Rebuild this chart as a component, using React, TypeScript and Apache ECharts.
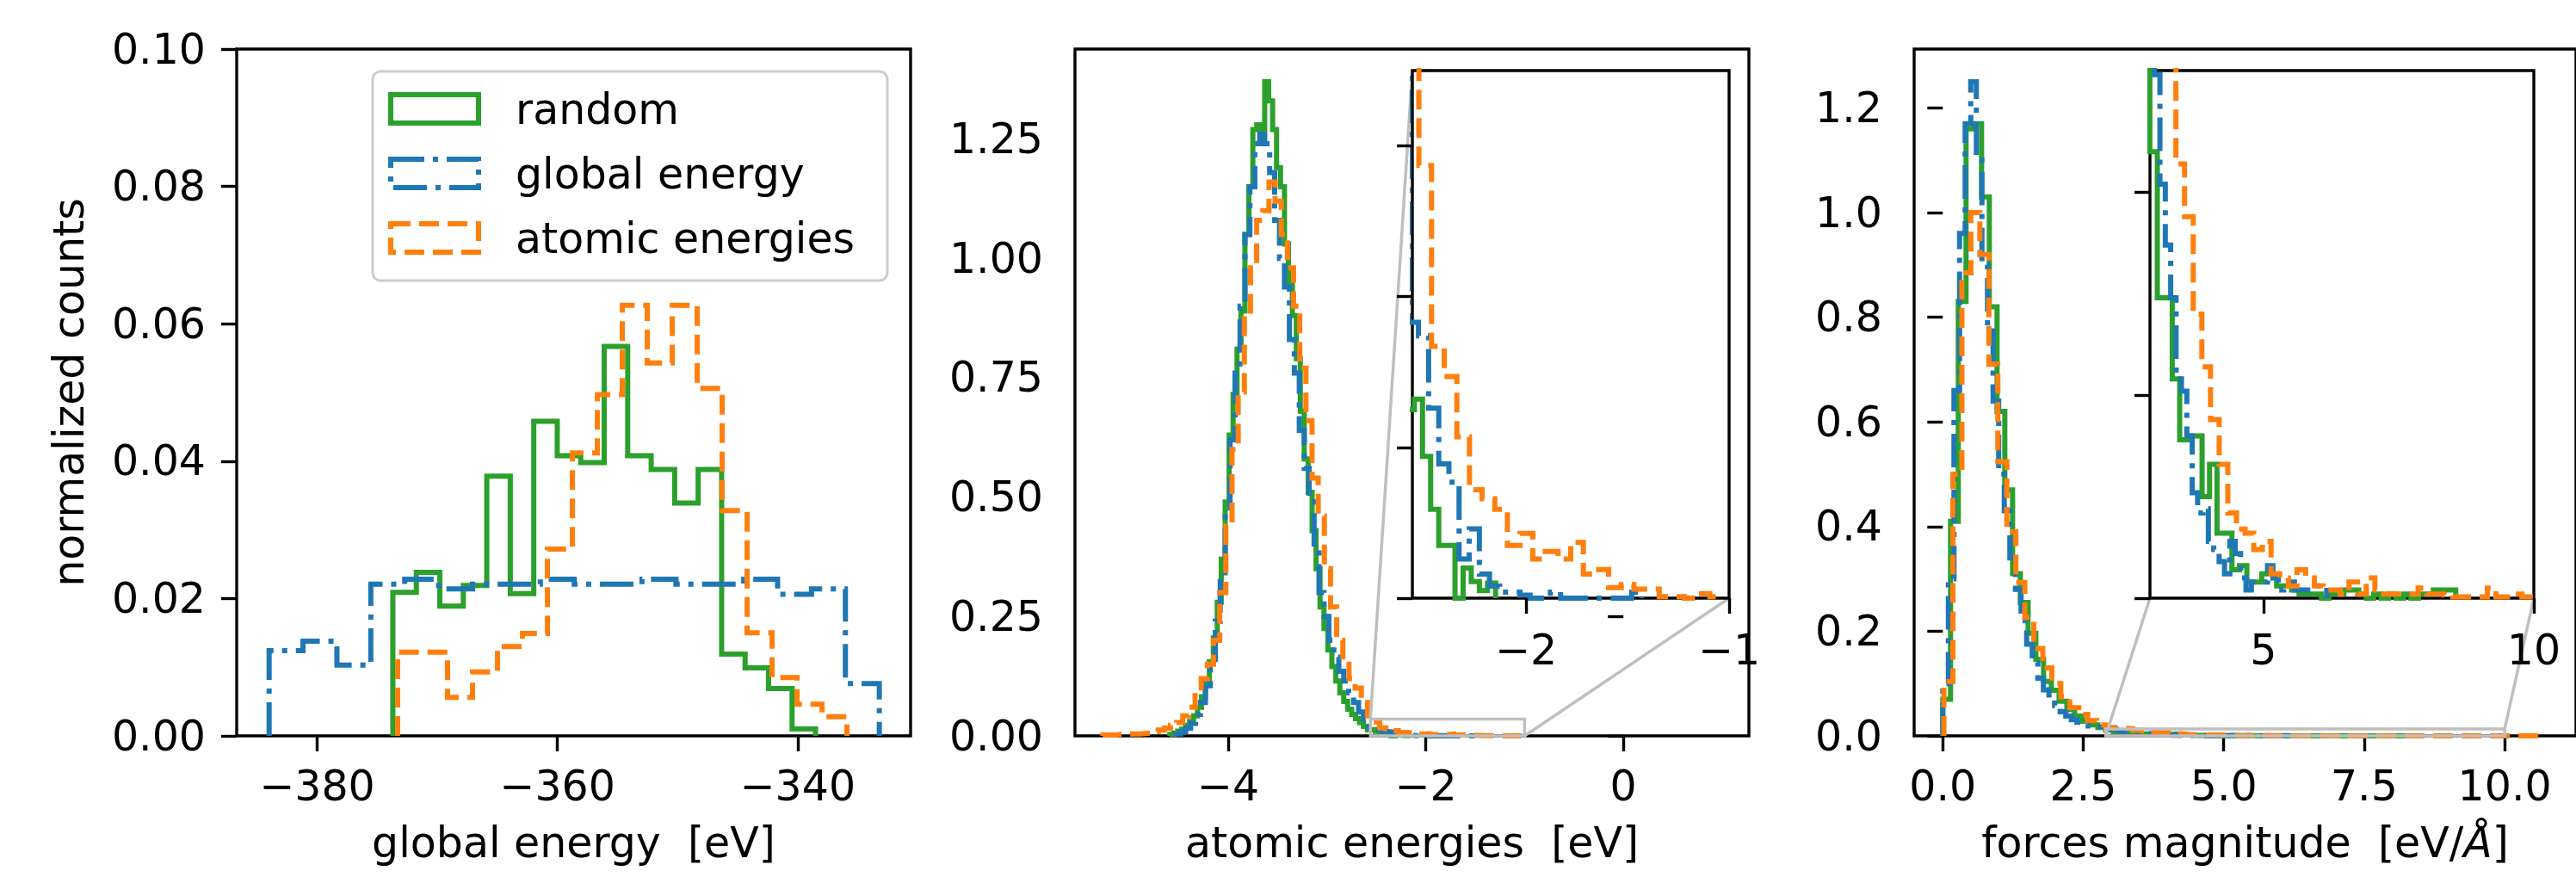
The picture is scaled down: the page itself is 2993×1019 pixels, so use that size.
import React, { useEffect, useRef } from "react";
import * as echarts from "echarts";

// ---------- styling constants ----------
const FONT = "DejaVu Sans";
const FS = 49;
const GREEN = "#2ca02c";
const BLUE = "#1f77b4";
const ORANGE = "#ff7f0e";
const DASHED = [23, 10];
const DASHDOT = [39, 10, 6, 10];
const GREY = "#bfbfbf";

const seriesNames = ["random", "global energy", "atomic energies"];

// ---------- panel 1: global energy [eV] ----------
const globalRandomStart = -373.7;
const globalRandomWidth = 1.955;
const globalRandom = [0.0209, 0.0238, 0.0189, 0.0219, 0.0378, 0.0207, 0.0458, 0.0408, 0.0398, 0.0567, 0.0408, 0.0388, 0.0339, 0.0388, 0.0119, 0.0099, 0.0069, 0.0010];
const globalGlobalStart = -384.0;
const globalGlobalWidth = 2.822;
const globalGlobal = [0.0124, 0.0138, 0.0103, 0.0221, 0.0228, 0.0214, 0.0221, 0.0221, 0.0228, 0.0221, 0.0221, 0.0228, 0.0221, 0.0221, 0.0228, 0.0206, 0.0214, 0.0076];
const globalAtomicStart = -373.3;
const globalAtomicWidth = 2.078;
const globalAtomic = [0.0122, 0.0122, 0.0056, 0.0093, 0.0130, 0.0149, 0.0272, 0.0412, 0.0497, 0.0627, 0.0543, 0.0627, 0.0506, 0.0328, 0.0150, 0.0085, 0.0046, 0.0028];

// ---------- panel 2: atomic energies [eV] ----------
const atomRandomStart = -4.59;
const atomRandomWidth = 0.04;
const atomRandom = [0.003, 0.006, 0.010, 0.014, 0.022, 0.030, 0.042, 0.060, 0.082, 0.112, 0.155, 0.205, 0.280, 0.370, 0.490, 0.630, 0.715, 0.810, 0.890, 1.050, 1.150, 1.270, 1.280, 1.270, 1.370, 1.330, 1.270, 1.190, 1.150, 1.030, 0.950, 0.880, 0.790, 0.680, 0.580, 0.510, 0.430, 0.350, 0.270, 0.225, 0.180, 0.145, 0.115, 0.090, 0.072, 0.056, 0.045, 0.036, 0.028, 0.020, 0.0125, 0.0132, 0.0094, 0.0059, 0.0035, 0.0035, 0.0, 0.0020, 0.0011, 0.0005, 0.0010];
const atomGlobalStart = -4.53;
const atomGlobalWidth = 0.05;
const atomGlobal = [0.004, 0.008, 0.016, 0.026, 0.045, 0.070, 0.105, 0.160, 0.240, 0.330, 0.470, 0.620, 0.760, 0.900, 1.050, 1.150, 1.240, 1.260, 1.240, 1.180, 1.080, 1.000, 0.940, 0.830, 0.760, 0.640, 0.560, 0.490, 0.390, 0.300, 0.250, 0.200, 0.165, 0.135, 0.115, 0.090, 0.070, 0.050, 0.035, 0.0183, 0.0174, 0.0126, 0.0089, 0.0077, 0.0026, 0.0046, 0.0016, 0.0008, 0.0004, 0.0004, 0.0002, 0, 0, 0.0004, 0, 0, 0, 0, 0, 0, 0, 0.0004];
const atomAtomicStart = -5.269;
const atomAtomicWidth = 0.0623;
const atomAtomic = [0.002, 0.002, 0.003, 0.003, 0.004, 0.004, 0.005, 0.006, 0.009, 0.012, 0.016, 0.022, 0.028, 0.042, 0.060, 0.090, 0.120, 0.150, 0.200, 0.300, 0.440, 0.600, 0.720, 0.880, 0.980, 1.080, 1.100, 1.160, 1.120, 1.050, 0.980, 0.900, 0.770, 0.660, 0.540, 0.460, 0.350, 0.270, 0.200, 0.150, 0.120, 0.100, 0.070, 0.042, 0.0287, 0.0167, 0.0147, 0.0107, 0.0072, 0.0066, 0.0059, 0.0035, 0.0043, 0.0026, 0.0031, 0.0026, 0.0037, 0.0016, 0.0019, 0.0007, 0.0009, 0.0006, 0.0006, 0.0001, 0.0001, 0, 0.0003, 0.0001];

// ---------- panel 3: forces magnitude [eV/Å] ----------
const forceRandomStart = 0.0;
const forceRandomWidth = 0.138;
const forceRandom = [0.07, 0.41, 0.83, 1.16, 1.17, 1.03, 0.82, 0.62, 0.47, 0.31, 0.255, 0.196, 0.146, 0.104, 0.087, 0.066, 0.050, 0.038, 0.028, 0.021, 0.016, 0.011, 0.0074, 0.0074, 0.0054, 0.0039, 0.0040, 0.0040, 0.0025, 0.0033, 0.0016, 0.0016, 0.0007, 0.0008, 0.0004, 0.0004, 0.0006, 0.0006, 0.0003, 0.0003, 0.0002, 0.0001, 0.0001, 0.0001, 0, 0.0001, 0.0001, 0.0002, 0.0002, 0.0001, 0, 0.0001, 0, 0.0001, 0, 0.0001, 0, 0.0001, 0.0001, 0.0002, 0.0002, 0.0002];
const forceGlobalStart = 0.0;
const forceGlobalWidth = 0.0995;
const forceGlobal = [0.10, 0.30, 0.66, 0.96, 1.17, 1.25, 1.10, 0.90, 0.78, 0.64, 0.50, 0.43, 0.34, 0.28, 0.22, 0.175, 0.14, 0.11, 0.088, 0.072, 0.058, 0.046, 0.038, 0.031, 0.026, 0.022, 0.019, 0.017, 0.016, 0.015, 0.0129, 0.0102, 0.0087, 0.0074, 0.0054, 0.0051, 0.0040, 0.0026, 0.0021, 0.0022, 0.0014, 0.0012, 0.0009, 0.0006, 0.0014, 0.0011, 0.0005, 0.0002, 0.0004, 0.0004, 0.0004, 0.0008, 0.0005, 0.0002, 0.0003, 0.0004, 0.0002, 0.0002, 0.0002, 0.0002, 0.0003, 0.0003];
const forceAtomicStart = 0.02;
const forceAtomicWidth = 0.16;
const forceAtomic = [0.104, 0.50, 0.885, 1.00, 0.92, 0.71, 0.524, 0.39, 0.293, 0.226, 0.167, 0.13, 0.10, 0.075, 0.054, 0.041, 0.029, 0.021, 0.016, 0.0145, 0.0135, 0.0107, 0.0094, 0.0070, 0.0057, 0.0044, 0.0033, 0.0021, 0.0017, 0.0016, 0.0012, 0.0014, 0.0006, 0.0005, 0.0003, 0.0007, 0.0005, 0.0003, 0.0002, 0.0002, 0.0001, 0.0004, 0.0001, 0.0005, 0.0002, 0.0001, 0.0001, 0.0001, 0.0001, 0.00025, 0.0001, 0.0001, 0.00008, 0.00003, 0.00003, 0.00003, 0.00003, 0.00025, 0.00003, 0.00003, 0.0001, 0.00003, 0.00003, 0.00003, 0.00003, 0.00003, 0.00003];

// ---------- axes ranges and ticks ----------
const globalXRange = [-386.7, -330.6];
const globalXTicks = [-380, -360, -340];
const globalYRange = [0, 0.1];
const globalYTicks = [0, 0.02, 0.04, 0.06, 0.08, 0.1];

const atomXRange = [-5.55, 1.27];
const atomXTicks = [-4, -2, 0];
const atomYRange = [0, 1.4385];
const atomYTicks = [0, 0.25, 0.5, 0.75, 1.0, 1.25];

const forceXRange = [-0.51, 11.27];
const forceXTicks = [0, 2.5, 5, 7.5, 10];
const forceYRange = [0, 1.3125];
const forceYTicks = [0, 0.2, 0.4, 0.6, 0.8, 1.0, 1.2];

const atomInsetX = [-2.56, -1];
const atomInsetXTicks = [-2, -1];
const atomInsetY = [0, 0.035];
const atomInsetYTicks = [0, 0.01, 0.02, 0.03];

const forceInsetX = [2.9, 10];
const forceInsetXTicks = [5, 10];
const forceInsetY = [0, 0.013];
const forceInsetYTicks = [0, 0.005, 0.01];

// ---------- helpers ----------
function steps(start: number, width: number, heights: number[]) {
  const pts: number[][] = [[start, 0]];
  heights.forEach((h, i) => {
    const x0 = start + i * width;
    pts.push([x0, h], [x0 + width, h]);
  });
  pts.push([start + heights.length * width, 0]);
  return pts;
}

const fmt = (d: number) => (v: number) => Number(v).toFixed(d).replace("-", "\u2212");

function hist(name: string, color: string, dash: any, start: number, width: number, heights: number[], idx: number, z: number) {
  return {
    type: "line",
    name,
    data: steps(start, width, heights),
    xAxisIndex: idx,
    yAxisIndex: idx,
    symbol: "none",
    showSymbol: false,
    silent: true,
    clip: true,
    z,
    lineStyle: { color, width: 6, type: dash, cap: "butt", join: "miter" },
    emphasis: { disabled: true },
  };
}

const labelStyle = { color: "#000", fontFamily: FONT, fontSize: FS };
const tickStyle = { color: "#000", width: 3.4 };

function axis(gridIndex: number, range: number[], ticks: number[], digits: number, opts: any = {}) {
  const { showLabels = true, margin = 34, z = 0, name, nameGap } = opts;
  return {
    type: "value",
    gridIndex,
    min: range[0],
    max: range[1],
    z,
    name,
    nameGap,
    nameLocation: "middle",
    nameTextStyle: {
      color: "#000",
      fontFamily: FONT,
      fontSize: FS,
      rich: { i: { fontStyle: "italic", fontFamily: FONT, fontSize: FS, color: "#000" } },
    },
    axisLine: { show: false },
    splitLine: { show: false },
    axisTick: { show: true, length: 18, inside: false, lineStyle: tickStyle, customValues: ticks },
    axisLabel: {
      show: showLabels,
      customValues: ticks,
      formatter: fmt(digits),
      margin,
      showMinLabel: true,
      showMaxLabel: true,
      hideOverlap: false,
      ...labelStyle,
    },
  };
}

function grid(left: number, top: number, width: number, height: number, z: number, bg: string) {
  return { left, top, width, height, show: true, borderColor: "#000", borderWidth: 3.4, backgroundColor: bg, z, containLabel: false };
}

function buildOption() {
  const grids = [
    grid(275, 57, 783, 798, 0, "transparent"),
    grid(1249, 57, 783, 798, 0, "transparent"),
    grid(2224, 57, 783, 798, 0, "transparent"),
    grid(1641, 82, 368, 613, 10, "#ffffff"),
    grid(2498, 82, 446, 613, 10, "#ffffff"),
  ];
  const xAxes = [
    axis(0, globalXRange, globalXTicks, 0, { name: "global energy  [eV]", nameGap: 100 }),
    axis(1, atomXRange, atomXTicks, 0, { name: "atomic energies  [eV]", nameGap: 100 }),
    axis(2, forceXRange, forceXTicks, 1, { name: "forces magnitude  [eV/{i|Å}]", nameGap: 100 }),
    axis(3, atomInsetX, atomInsetXTicks, 0, { z: 12, margin: 36 }),
    axis(4, forceInsetX, forceInsetXTicks, 0, { z: 12, margin: 36 }),
  ];
  const yAxes = [
    axis(0, globalYRange, globalYTicks, 2, { margin: 36, name: "normalized counts", nameGap: 170 }),
    axis(1, atomYRange, atomYTicks, 2, { margin: 37 }),
    axis(2, forceYRange, forceYTicks, 1, { margin: 37 }),
    axis(3, atomInsetY, atomInsetYTicks, 3, { z: 12, showLabels: false }),
    axis(4, forceInsetY, forceInsetYTicks, 3, { z: 12, showLabels: false }),
  ];
  const series = [
    hist(seriesNames[0], GREEN, "solid", globalRandomStart, globalRandomWidth, globalRandom, 0, 2),
    hist(seriesNames[1], BLUE, DASHDOT, globalGlobalStart, globalGlobalWidth, globalGlobal, 0, 2),
    hist(seriesNames[2], ORANGE, DASHED, globalAtomicStart, globalAtomicWidth, globalAtomic, 0, 2),

    hist(seriesNames[0], GREEN, "solid", atomRandomStart, atomRandomWidth, atomRandom, 1, 2),
    hist(seriesNames[1], BLUE, DASHDOT, atomGlobalStart, atomGlobalWidth, atomGlobal, 1, 2),
    hist(seriesNames[2], ORANGE, DASHED, atomAtomicStart, atomAtomicWidth, atomAtomic, 1, 2),

    hist(seriesNames[0], GREEN, "solid", forceRandomStart, forceRandomWidth, forceRandom, 2, 2),
    hist(seriesNames[1], BLUE, DASHDOT, forceGlobalStart, forceGlobalWidth, forceGlobal, 2, 2),
    hist(seriesNames[2], ORANGE, DASHED, forceAtomicStart, forceAtomicWidth, forceAtomic, 2, 2),

    hist(seriesNames[0], GREEN, "solid", atomRandomStart, atomRandomWidth, atomRandom, 3, 11),
    hist(seriesNames[1], BLUE, DASHDOT, atomGlobalStart, atomGlobalWidth, atomGlobal, 3, 11),
    hist(seriesNames[2], ORANGE, DASHED, atomAtomicStart, atomAtomicWidth, atomAtomic, 3, 11),

    hist(seriesNames[0], GREEN, "solid", forceRandomStart, forceRandomWidth, forceRandom, 4, 11),
    hist(seriesNames[1], BLUE, DASHDOT, forceGlobalStart, forceGlobalWidth, forceGlobal, 4, 11),
    hist(seriesNames[2], ORANGE, DASHED, forceAtomicStart, forceAtomicWidth, forceAtomic, 4, 11),
  ];
  return {
    animation: false,
    backgroundColor: "#ffffff",
    grid: grids,
    xAxis: xAxes,
    yAxis: yAxes,
    series,
  };
}

function buildGraphic(chart: any) {
  const px = (gi: number, pt: number[]) => chart.convertToPixel({ gridIndex: gi }, pt) as number[];
  const els: any[] = [];
  const greyLine = (a: number[], b: number[]) => ({
    type: "line",
    z: 5,
    silent: true,
    shape: { x1: a[0], y1: a[1], x2: b[0], y2: b[1] },
    style: { stroke: GREY, lineWidth: 3.5 },
  });
  const greyRect = (a: number[], b: number[]) => ({
    type: "rect",
    z: 5,
    silent: true,
    shape: { x: Math.min(a[0], b[0]), y: Math.min(a[1], b[1]), width: Math.abs(b[0] - a[0]), height: Math.abs(b[1] - a[1]) },
    style: { fill: "none", stroke: GREY, lineWidth: 3.5 },
  });

  // middle panel zoom indicator
  const mTL = px(1, [atomInsetX[0], atomInsetY[1]]);
  const mBR = px(1, [atomInsetX[1], atomInsetY[0]]);
  const miTL = px(3, [atomInsetX[0], atomInsetY[1]]);
  const miBR = px(3, [atomInsetX[1], atomInsetY[0]]);
  els.push(greyRect(mTL, mBR), greyLine(mTL, miTL), greyLine(mBR, miBR));

  // right panel zoom indicator
  const fTL = px(2, [forceInsetX[0], forceInsetY[1]]);
  const fBR = px(2, [forceInsetX[1], forceInsetY[0]]);
  const fBL = px(2, [forceInsetX[0], forceInsetY[0]]);
  const fTR = px(2, [forceInsetX[1], forceInsetY[1]]);
  const fiBL = px(4, [forceInsetX[0], forceInsetY[0]]);
  const fiBR = px(4, [forceInsetX[1], forceInsetY[0]]);
  els.push(greyRect(fTL, fBR), greyLine(fBL, fiBL), greyLine(fTR, fiBR));

  // legend (left panel)
  els.push({
    type: "rect",
    z: 20,
    silent: true,
    shape: { x: 433, y: 83, width: 598, height: 243, r: 9 },
    style: { fill: "rgba(255,255,255,0.8)", stroke: "#cccccc", lineWidth: 3 },
  });
  const legendColors = [GREEN, BLUE, ORANGE];
  const legendDash: any[] = [null, DASHDOT, DASHED];
  seriesNames.forEach((n, i) => {
    els.push({
      type: "rect",
      z: 21,
      silent: true,
      shape: { x: 454, y: 110 + 75 * i, width: 102, height: 33 },
      style: { fill: "none", stroke: legendColors[i], lineWidth: 6, lineDash: legendDash[i], lineCap: "butt" },
    });
    els.push({
      type: "text",
      z: 21,
      silent: true,
      x: 599,
      y: 127 + 75 * i,
      style: { text: n, fontFamily: FONT, fontSize: FS, fill: "#000", verticalAlign: "middle", align: "left" },
    });
  });
  return els;
}

export default function App() {
  const ref = useRef<HTMLDivElement>(null);
  useEffect(() => {
    document.body.style.margin = "0";
    const chart = echarts.init(ref.current as HTMLDivElement, null, { renderer: "svg" });
    chart.setOption(buildOption() as any);
    chart.setOption({ graphic: buildGraphic(chart) } as any);
    return () => chart.dispose();
  }, []);
  return <div ref={ref} style={{ width: 2993, height: 1019 }} />;
}
